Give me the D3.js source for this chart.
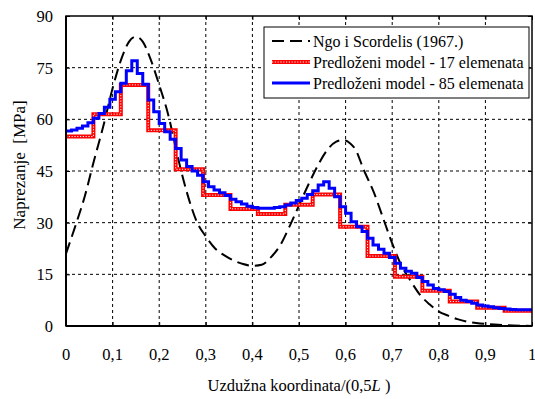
<!DOCTYPE html>
<html>
<head>
<meta charset="utf-8">
<script src="https://cdn.jsdelivr.net/npm/d3@7"></script>
<style>
  body { margin: 0; background: #fff; }
  svg { display: block; }
</style>
</head>
<body>
<svg id="chart" width="535" height="399"></svg>
<script>
// ---- data ----
const xTicks = [0, 0.1, 0.2, 0.3, 0.4, 0.5, 0.6, 0.7, 0.8, 0.9, 1];
const xTickLabels = ["0", "0,1", "0,2", "0,3", "0,4", "0,5", "0,6", "0,7", "0,8", "0,9", "1"];
const yTicks = [0, 15, 30, 45, 60, 75, 90];

// Ngo i Scordelis (1967.) — smooth curve (x, stress)
const ngoX = [0, 0.02, 0.04, 0.06, 0.08, 0.1, 0.12, 0.135, 0.15, 0.165, 0.18, 0.2, 0.22, 0.24, 0.26, 0.28, 0.3, 0.32, 0.34, 0.36, 0.38, 0.4, 0.42, 0.44, 0.46, 0.48, 0.5, 0.52, 0.54, 0.56, 0.58, 0.595, 0.61, 0.62, 0.64, 0.66, 0.68, 0.7, 0.72, 0.74, 0.76, 0.78, 0.8, 0.82, 0.84, 0.86, 0.88, 0.92, 0.96, 1];
const ngoY = [21, 29, 37.5, 48, 58, 69, 78, 82.5, 84, 82.5, 78, 70, 61, 49, 38.5, 30.5, 26, 22.5, 20.5, 19, 18, 17.5, 17.8, 20, 23.5, 29, 35, 41, 46.5, 51, 53.5, 54, 53, 51.5, 45, 39, 31.5, 24, 17.5, 13, 9, 6.3, 4.2, 3, 2, 1.3, 0.9, 0.4, 0.15, 0];

// Predloženi model - 17 elemenata (constant per element)
const model17 = [55, 61.5, 70, 56.8, 45.5, 38, 34, 32.5, 35.2, 38.2, 28.8, 20.3, 14.3, 10.2, 7.1, 5.3, 4.4];

// Predloženi model - 85 elemenata (constant per element)
const model85 = [56.6, 56.9, 57.4, 58.1, 59.0, 60.3, 61.7, 63.5, 65.8, 68.0,
  70.5, 74.1, 77.0, 73.3, 70.2, 65.6, 62.2, 58.8, 56.4, 54.2,
  51.5, 48.2, 46.3, 45.0, 43.8, 41.9, 40.4, 39.5, 38.7, 37.9,
  36.8, 36.1, 35.4, 34.8, 34.4, 34.2, 34.2, 34.2, 34.4, 34.6,
  35.1, 35.7, 36.4, 37.1, 38.2, 39.3, 40.9, 41.9, 40.0, 37.5,
  34.6, 32.7, 30.3, 28.8, 27.4, 25.5, 23.5, 22.3, 21.1, 19.9,
  18.2, 16.8, 15.9, 15.3, 14.1, 12.9, 11.9, 10.9, 10.5, 10.0,
  9.2, 8.3, 7.5, 7.1, 6.6, 6.1, 5.8, 5.6, 5.3, 5.1,
  4.9, 4.8, 4.7, 4.7, 4.7];

const legendLabels = ["Ngo i Scordelis (1967.)", "Predloženi model - 17 elemenata", "Predloženi model - 85 elemenata"];

// ---- layout ----
const FONT = "Liberation Serif";
const svg = d3.select("#chart");
const L = 66, R = 532, T = 16, B = 326;
const x = d3.scaleLinear().domain([0, 1]).range([L, R]);
const y = d3.scaleLinear().domain([0, 90]).range([B, T]);

// grid
const g = svg.append("g");
g.selectAll(".vg").data(xTicks.slice(1, -1)).enter().append("line")
  .attr("x1", d => x(d)).attr("x2", d => x(d)).attr("y1", T).attr("y2", B)
  .attr("stroke", "#000").attr("stroke-width", 1).attr("stroke-dasharray", "3,3");
g.selectAll(".hg").data(yTicks.slice(1, -1)).enter().append("line")
  .attr("x1", L).attr("x2", R).attr("y1", d => y(d)).attr("y2", d => y(d))
  .attr("stroke", "#000").attr("stroke-width", 1).attr("stroke-dasharray", "3,3");

// axes (ticks inward, labels drawn separately)
const xAxisB = d3.axisBottom(x).tickValues(xTicks).tickSize(-4).tickFormat("");
const xAxisT = d3.axisTop(x).tickValues(xTicks).tickSize(-4).tickFormat("");
const yAxisL = d3.axisLeft(y).tickValues(yTicks).tickSize(-4).tickFormat("");
const yAxisR = d3.axisRight(y).tickValues(yTicks).tickSize(-4).tickFormat("");
[[xAxisB, `translate(0,${B})`], [xAxisT, `translate(0,${T})`], [yAxisL, `translate(${L},0)`], [yAxisR, `translate(${R},0)`]]
  .forEach(([ax, tr]) => {
    const a = svg.append("g").attr("transform", tr).call(ax);
    a.select(".domain").remove();
    a.selectAll("line").attr("stroke", "#000").attr("stroke-width", 1);
  });

// data lines
const ngoData = ngoX.map((d, i) => [d, ngoY[i]]);
const lineSmooth = d3.line().x(d => x(d[0])).y(d => y(d[1])).curve(d3.curveMonotoneX);
const lineStep = d3.line().x(d => x(d[0])).y(d => y(d[1])).curve(d3.curveStepAfter);
const stepData = arr => { const n = arr.length; const pts = arr.map((v, i) => [i / n, v]); pts.push([1, arr[n - 1]]); return pts; };

svg.append("path").datum(ngoData).attr("d", lineSmooth)
  .attr("fill", "none").attr("stroke", "#000").attr("stroke-width", 2).attr("stroke-dasharray", "12,6");

svg.append("path").datum(stepData(model17)).attr("d", lineStep)
  .attr("fill", "none").attr("stroke", "#ff0000").attr("stroke-width", 4);
svg.append("path").datum(stepData(model17)).attr("d", lineStep)
  .attr("fill", "none").attr("stroke", "#ffffff").attr("stroke-width", 1).attr("stroke-dasharray", "1.2,1.6");

svg.append("path").datum(stepData(model85)).attr("d", lineStep)
  .attr("fill", "none").attr("stroke", "#0000ff").attr("stroke-width", 3);

// frame
svg.append("rect").attr("x", L).attr("y", T).attr("width", R - L).attr("height", B - T)
  .attr("fill", "none").attr("stroke", "#000").attr("stroke-width", 1.5);
svg.append("line").attr("x1", L).attr("x2", R).attr("y1", B).attr("y2", B).attr("stroke", "#000").attr("stroke-width", 2);
svg.append("line").attr("x1", L).attr("x2", L).attr("y1", T).attr("y2", B).attr("stroke", "#000").attr("stroke-width", 2);

// tick labels
svg.selectAll(".xl").data(xTicks).enter().append("text")
  .attr("x", d => x(d)).attr("y", 360).attr("text-anchor", "middle")
  .attr("font-family", FONT).attr("font-size", 16.5).attr("fill", "#000")
  .text((d, i) => xTickLabels[i]);
svg.selectAll(".yl").data(yTicks).enter().append("text")
  .attr("x", 53).attr("y", d => y(d) + 6).attr("text-anchor", "end")
  .attr("font-family", FONT).attr("font-size", 16.5).attr("fill", "#000")
  .text(d => d);

// axis titles
svg.append("text").attr("transform", `translate(25,${(T + B) / 2 - 6}) rotate(-90)`)
  .attr("text-anchor", "middle").attr("font-family", FONT).attr("font-size", 17)
  .style("white-space", "pre")
  .text("Naprezanje  [MPa]");
const xt = svg.append("text").attr("x", 299).attr("y", 391).attr("text-anchor", "middle")
  .attr("font-family", FONT).attr("font-size", 16.5);
xt.append("tspan").text("Uzdužna koordinata/(0,5");
xt.append("tspan").attr("font-style", "italic").text("L");
xt.append("tspan").text("\u00a0)");

// legend
const lg = svg.append("g");
lg.append("rect").attr("x", 264).attr("y", 27).attr("width", 265).attr("height", 71)
  .attr("fill", "#fff").attr("stroke", "#000").attr("stroke-width", 1);
const rows = [41, 62, 83];
lg.append("line").attr("x1", 272).attr("x2", 310).attr("y1", rows[0]).attr("y2", rows[0])
  .attr("stroke", "#000").attr("stroke-width", 2).attr("stroke-dasharray", "12,6");
lg.append("line").attr("x1", 272).attr("x2", 310).attr("y1", rows[1]).attr("y2", rows[1])
  .attr("stroke", "#ff0000").attr("stroke-width", 4);
lg.append("line").attr("x1", 272).attr("x2", 310).attr("y1", rows[1]).attr("y2", rows[1])
  .attr("stroke", "#fff").attr("stroke-width", 1).attr("stroke-dasharray", "1.2,1.6");
lg.append("line").attr("x1", 272).attr("x2", 310).attr("y1", rows[2]).attr("y2", rows[2])
  .attr("stroke", "#0000ff").attr("stroke-width", 3);
legendLabels.forEach((t, i) => {
  lg.append("text").attr("x", 313).attr("y", rows[i] + 5.5)
    .attr("font-family", FONT).attr("font-size", 16).text(t);
});
</script>
</body>
</html>
